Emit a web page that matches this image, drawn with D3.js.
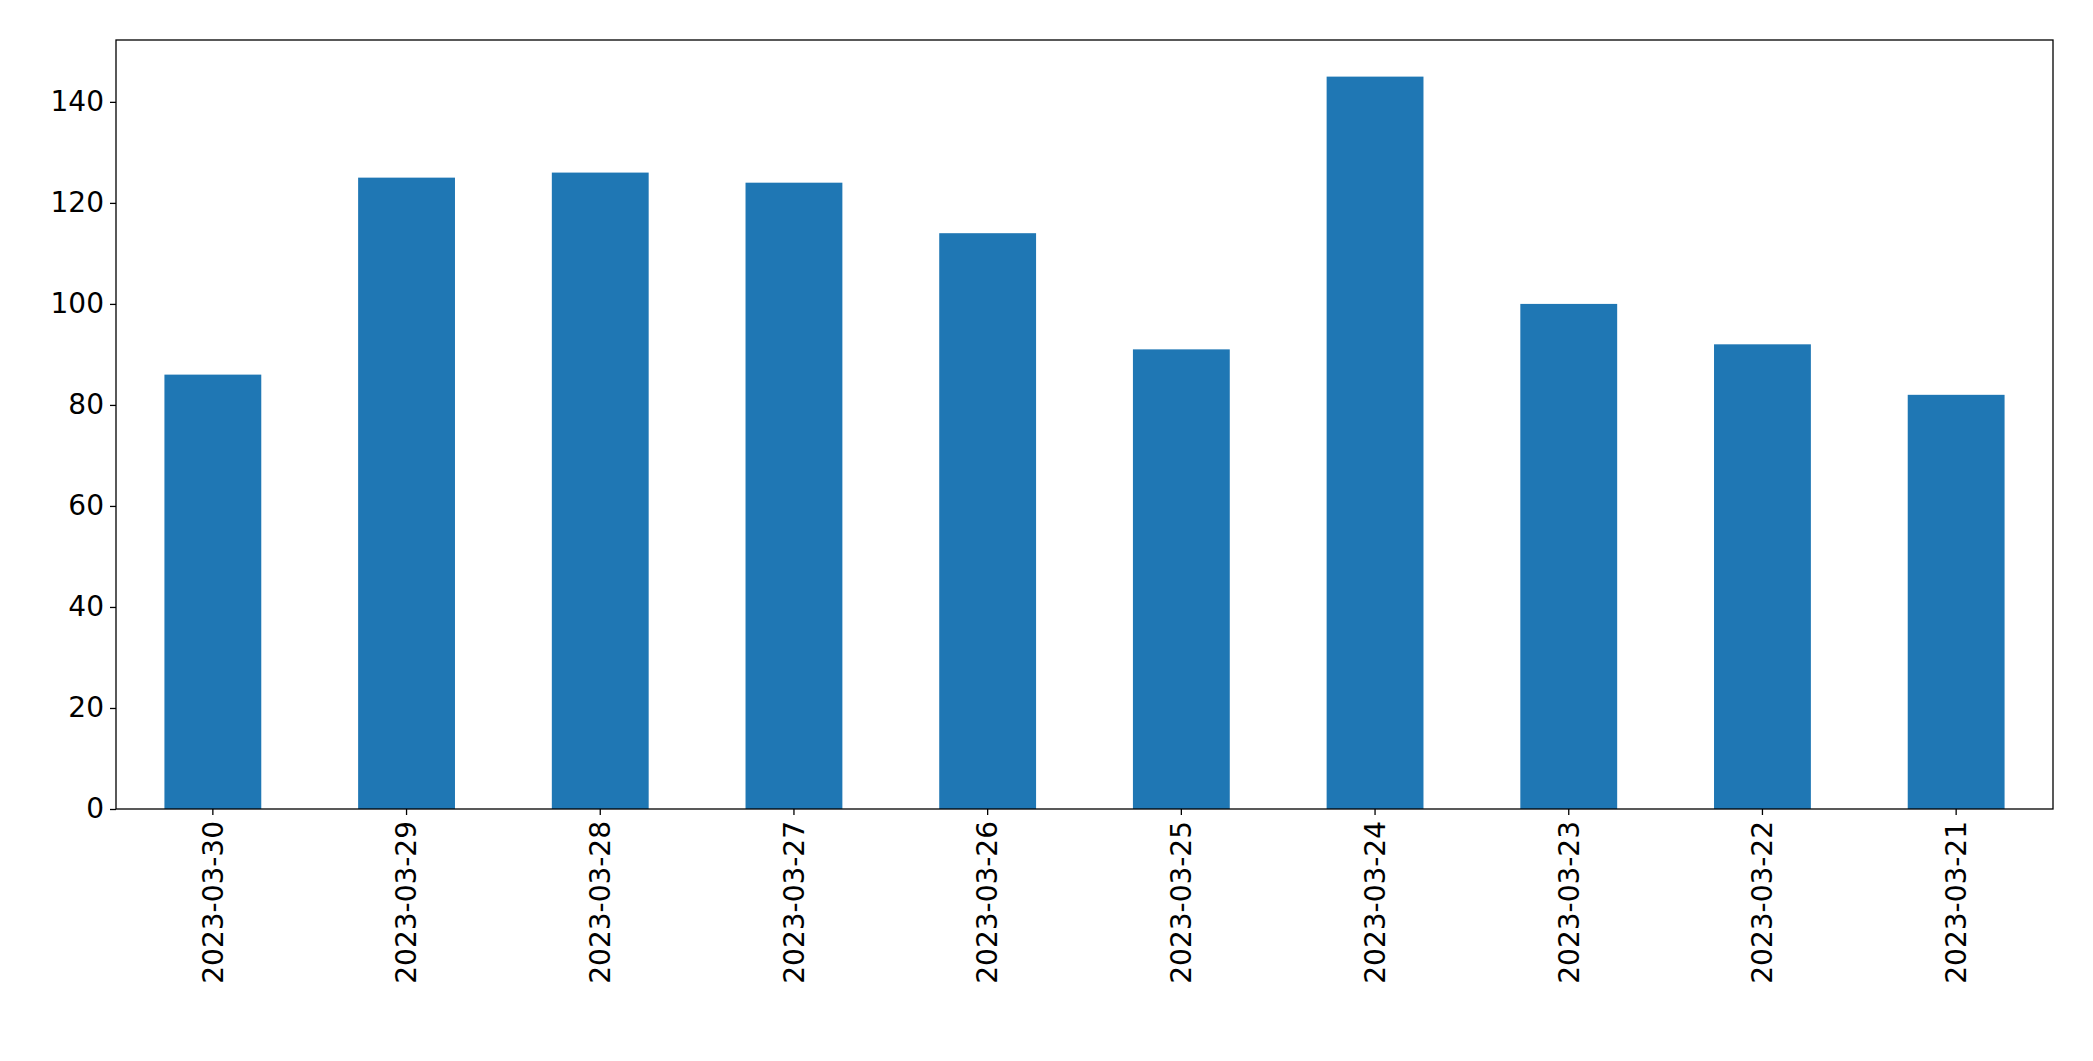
<!DOCTYPE html>
<html><head><meta charset="utf-8">
<script src="https://cdn.jsdelivr.net/npm/d3@7"></script>
<style>body{margin:0;background:#fff}svg{display:block}</style>
</head><body><svg id="c" width="2093" height="1061"></svg>
<script>
const categories=["2023-03-30","2023-03-29","2023-03-28","2023-03-27","2023-03-26","2023-03-25","2023-03-24","2023-03-23","2023-03-22","2023-03-21"];
const values=[86,125,126,124,114,91,145,100,92,82];
const yTicks=[0,20,40,60,80,100,120,140];
const m={l:116,r:2053,t:40,b:809};
const svg=d3.select("#c");
const x=d3.scaleBand().domain(categories).range([m.l,m.r]).paddingInner(0.5).paddingOuter(0.25);
const y=d3.scaleLinear().domain([0,145*1.05]).range([m.b,m.t]);
svg.selectAll("rect.bar").data(values).join("rect").attr("class","bar")
 .attr("x",(d,i)=>x(categories[i])).attr("width",x.bandwidth())
 .attr("y",d=>y(d)).attr("height",d=>y(0)-y(d)).attr("fill","#1f77b4");
const ya=svg.append("g").attr("transform",`translate(${m.l},0)`).call(d3.axisLeft(y).tickValues(yTicks).tickSize(6).tickPadding(6));
const xa=svg.append("g").attr("transform",`translate(0,${m.b})`).call(d3.axisBottom(x).tickSize(6).tickPadding(6));
[ya,xa].forEach(g=>{g.select(".domain").remove();g.selectAll("text").attr("font-family","DejaVu Sans").attr("font-size",28).attr("fill","#000");g.selectAll("line").attr("stroke","#000").attr("stroke-width",1.3);});
xa.selectAll("text").attr("transform","rotate(-90)").attr("text-anchor","end").attr("dy","0.35em").attr("x",-12).attr("y",0);
svg.append("rect").attr("x",m.l).attr("y",m.t).attr("width",m.r-m.l).attr("height",m.b-m.t).attr("fill","none").attr("stroke","#000").attr("stroke-width",1.3);
</script></body></html>
